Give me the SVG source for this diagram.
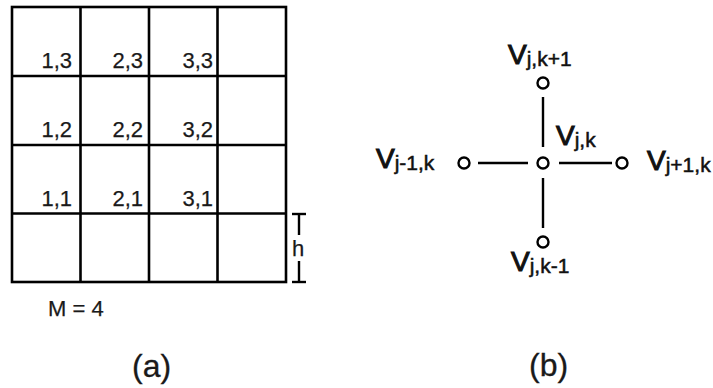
<svg xmlns="http://www.w3.org/2000/svg" width="713" height="388" viewBox="0 0 713 388">
<style>
  .grid { stroke: #000; stroke-width: 2.6; fill: none; }
  .edge { stroke: #000; stroke-width: 2.4; fill: none; }
  .node { stroke: #000; stroke-width: 2.4; fill: #fff; }
  .lbl { font-family: "Liberation Sans", Arial, sans-serif; font-size: 22px; fill: #1a1a1a; stroke: #1a1a1a; stroke-width: 0.25; }
  .cap { font-family: "Liberation Sans", Arial, sans-serif; font-size: 32px; fill: #1a1a1a; stroke: #1a1a1a; stroke-width: 0.3; }
  .v { font-family: "Liberation Sans", Arial, sans-serif; font-size: 28px; fill: #111; stroke: #111; stroke-width: 1.1; }
  .sub { font-size: 21px; stroke-width: 0.5; }
</style>
<rect width="713" height="388" fill="#fff"/>

<g id="grid-a">
  <rect class="grid" x="12" y="7" width="274" height="275"/>
  <line class="grid" x1="80.5" y1="7" x2="80.5" y2="282"/>
  <line class="grid" x1="149" y1="7" x2="149" y2="282"/>
  <line class="grid" x1="217.5" y1="7" x2="217.5" y2="282"/>
  <line class="grid" x1="12" y1="76" x2="286" y2="76"/>
  <line class="grid" x1="12" y1="145" x2="286" y2="145"/>
  <line class="grid" x1="12" y1="213.5" x2="286" y2="213.5"/>
</g>

<g id="cell-labels" class="lbl" text-anchor="end">
  <text x="72" y="68">1,3</text>
  <text x="143" y="68">2,3</text>
  <text x="213" y="68">3,3</text>
  <text x="72" y="137">1,2</text>
  <text x="143" y="137">2,2</text>
  <text x="213" y="137">3,2</text>
  <text x="72" y="206">1,1</text>
  <text x="143" y="206">2,1</text>
  <text x="213" y="206">3,1</text>
</g>

<g id="h-dimension">
  <line class="edge" x1="292" y1="214" x2="306" y2="214"/>
  <line class="edge" x1="299" y1="214" x2="299" y2="235"/>
  <line class="edge" x1="299" y1="261" x2="299" y2="282"/>
  <line class="edge" x1="292" y1="282" x2="306" y2="282"/>
  <text class="lbl" x="292" y="256">h</text>
</g>

<text id="m-label" class="lbl" x="48" y="316">M = 4</text>
<text id="caption-a" class="cap" x="132" y="377">(a)</text>
<text id="caption-b" class="cap" x="529" y="376">(b)</text>

<g id="connectors">
  <line class="edge" x1="478" y1="163" x2="528" y2="163"/>
  <line class="edge" x1="559" y1="163" x2="612" y2="163"/>
  <line class="edge" x1="543" y1="97" x2="543" y2="147"/>
  <line class="edge" x1="543" y1="178" x2="543" y2="228"/>
</g>

<g id="node-center">
  <circle class="node" cx="543" cy="163" r="5.5"/>
  <text class="v" x="556" y="145">V<tspan class="sub" dy="2">j,k</tspan></text>
</g>
<g id="node-top">
  <circle class="node" cx="543" cy="83" r="5.5"/>
  <text class="v" x="508" y="64">V<tspan class="sub" dy="2">j,k+1</tspan></text>
</g>
<g id="node-bottom">
  <circle class="node" cx="543" cy="242" r="5.5"/>
  <text class="v" x="511" y="271">V<tspan class="sub" dy="2">j,k-1</tspan></text>
</g>
<g id="node-left">
  <circle class="node" cx="464" cy="163" r="5.5"/>
  <text class="v" x="376" y="168">V<tspan class="sub" dy="2">j-1,k</tspan></text>
</g>
<g id="node-right">
  <circle class="node" cx="622" cy="163" r="5.5"/>
  <text class="v" x="647" y="170">V<tspan class="sub" dy="2">j+1,k</tspan></text>
</g>
</svg>
